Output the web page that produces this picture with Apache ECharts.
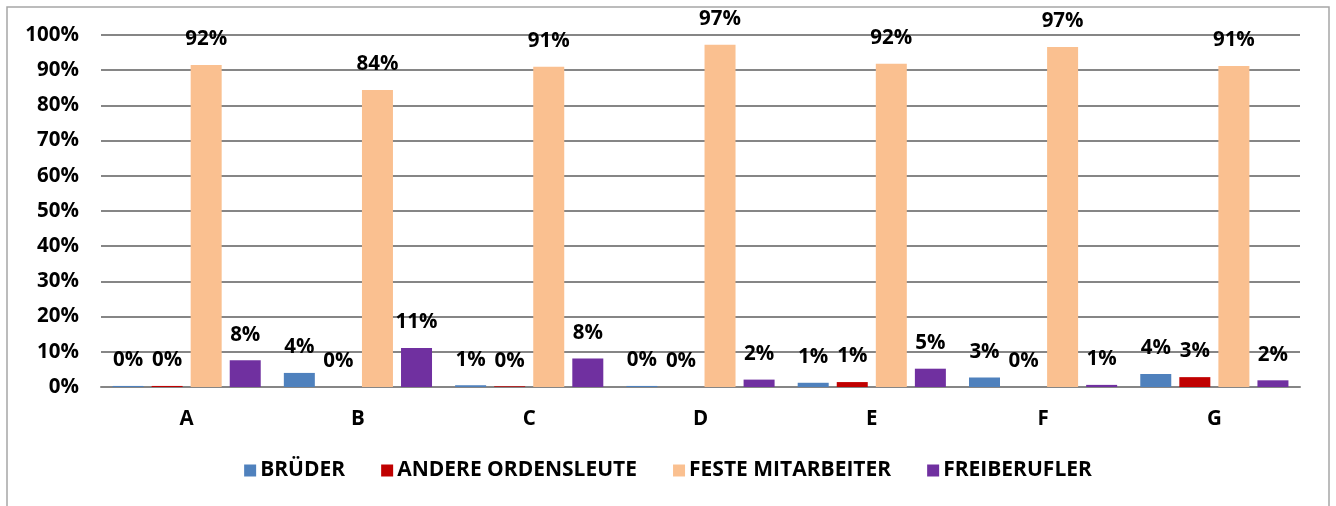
<!DOCTYPE html>
<html>
<head>
<meta charset="utf-8">
<script src="https://cdn.jsdelivr.net/npm/echarts@6/dist/echarts.min.js"></script>
<style>
html,body{margin:0;padding:0;background:#fff;}
#chart{width:1336px;height:506px;}
</style>
</head>
<body>
<div id="chart"></div>
<script>
const categories = ['A', 'B', 'C', 'D', 'E', 'F', 'G'];
const seriesNames = ['BRÜDER', 'ANDERE ORDENSLEUTE', 'FESTE MITARBEITER', 'FREIBERUFLER'];
const brueder = [0.3, 4.0, 0.5, 0.3, 1.2, 2.7, 3.7];
const andereOrdensleute = [0.3, 0, 0.2, 0, 1.4, 0, 2.8];
const festeMitarbeiter = [91.5, 84.4, 91.0, 97.2, 91.8, 96.6, 91.2];
const freiberufler = [7.6, 11.1, 8.1, 2.1, 5.2, 0.6, 1.9];
const yTicks = [0, 10, 20, 30, 40, 50, 60, 70, 80, 90, 100];

const colors = ['#4F81BD', '#C00000', '#FAC090', '#7030A0'];
const FONT = '"Open Sans", "Noto Sans", sans-serif';

const chart = echarts.init(document.getElementById('chart'), null, {renderer: 'canvas'});
const allData = [brueder, andereOrdensleute, festeMitarbeiter, freiberufler];

const series = allData.map((d, i) => ({
  name: seriesNames[i],
  type: 'bar',
  data: d,
  barWidth: 31,
  barGap: '26%',
  itemStyle: {color: colors[i]},
  label: {
    show: true,
    position: 'top',
    distance: 15,
    formatter: p => Math.round(p.value) + '%',
    fontFamily: FONT,
    fontWeight: 'bold',
    fontSize: 20.5,
    color: '#000'
  }
}));

chart.setOption({
  animation: false,
  backgroundColor: '#fff',
  color: colors,
  graphic: [{
    type: 'rect',
    shape: {x: 7, y: 7, width: 1322, height: 520},
    style: {fill: 'none', stroke: '#A6A6A6', lineWidth: 1.5},
    z: -10
  }],
  grid: {left: 101, right: 36, top: 35, bottom: 119},
  legend: {
    data: seriesNames,
    bottom: 20,
    left: 'center',
    itemWidth: 12,
    itemHeight: 12,
    itemGap: 36,
    icon: 'rect',
    textStyle: {fontFamily: FONT, fontWeight: 'bold', fontSize: 21, color: '#000', padding: [0, 0, 0, -1]}
  },
  xAxis: {
    type: 'category',
    data: categories,
    axisLine: {lineStyle: {color: '#868686', width: 2}},
    axisTick: {show: false},
    axisLabel: {margin: 22, fontFamily: FONT, fontWeight: 'bold', fontSize: 20.5, color: '#000'}
  },
  yAxis: {
    type: 'value',
    min: yTicks[0],
    max: yTicks[yTicks.length - 1],
    interval: 10,
    axisLine: {show: false},
    axisTick: {show: false},
    splitLine: {lineStyle: {color: '#868686', width: 2}},
    axisLabel: {margin: 22, formatter: v => v + '%', fontFamily: FONT, fontWeight: 'bold', fontSize: 20.5, color: '#000'}
  },
  series: series
});
</script>
</body>
</html>
